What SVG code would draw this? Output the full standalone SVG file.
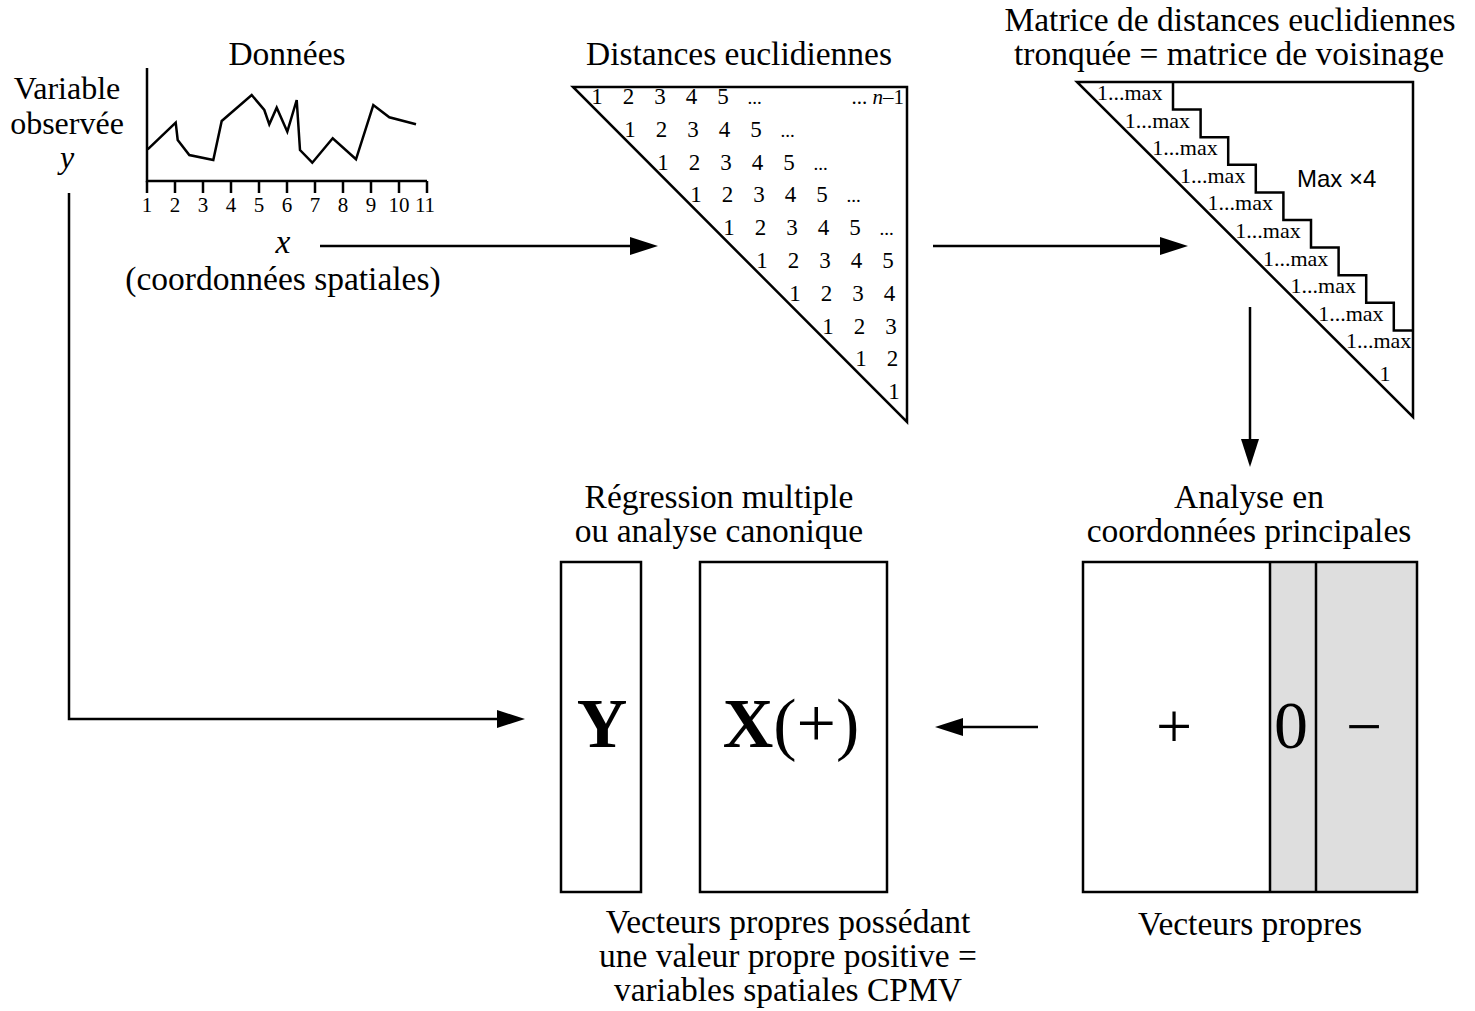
<svg xmlns="http://www.w3.org/2000/svg" width="1475" height="1011" viewBox="0 0 1475 1011">
<defs>
<style>
text{font-family:"Liberation Serif","Times New Roman",serif;fill:#000}
.t{font-size:33.5px;text-anchor:middle}
.n{font-size:23px;text-anchor:middle}
.tk{font-size:21px;text-anchor:middle}
.m{font-size:22px}
.ln{fill:none;stroke:#000;stroke-width:2.5}
.box{fill:#fff;stroke:#000;stroke-width:2.5}
.arr{fill:none;stroke:#000;stroke-width:2.5;marker-end:url(#ah)}
</style>
<marker id="ah" markerUnits="userSpaceOnUse" viewBox="0 0 28 18" refX="8" refY="9" markerWidth="28" markerHeight="18" orient="auto">
<path d="M0,0 L28,9 L0,18 z" fill="#000"/>
</marker>
</defs>
<rect width="1475" height="1011" fill="#fff"/>

<g id="donnees">
<text class="t" x="287" y="65">Données</text>
<text class="t" x="67" y="99" style="font-size:32px">Variable</text>
<text class="t" x="67" y="134" style="font-size:32px">observée</text>
<text class="t" x="67" y="168" font-style="italic" style="font-size:32px">y</text>
<path class="ln" d="M147,68 V181 H427"/>
<path class="ln" d="M147,181 V193 M175,181 V193 M203,181 V193 M231,181 V193 M259,181 V193 M287,181 V193 M315,181 V193 M343,181 V193 M371,181 V193 M399,181 V193 M427,181 V193"/>
<text class="tk" x="147" y="212">1</text>
<text class="tk" x="175" y="212">2</text>
<text class="tk" x="203" y="212">3</text>
<text class="tk" x="231" y="212">4</text>
<text class="tk" x="259" y="212">5</text>
<text class="tk" x="287" y="212">6</text>
<text class="tk" x="315" y="212">7</text>
<text class="tk" x="343" y="212">8</text>
<text class="tk" x="371" y="212">9</text>
<text class="tk" x="399" y="212">10</text>
<text class="tk" x="425" y="212">11</text>
<polyline class="ln" points="147.7,149.3 175.7,122.7 177.7,140 189.3,155 213.3,160 221.7,121 251.7,95 264.3,110 269.3,124.3 276.7,107.7 287.3,131.7 296.7,100 300,150 312.3,162.7 332.7,138.3 356,159.3 373.3,105 389.3,117.3 416,124.3"/>
<text class="t" x="283" y="253" font-style="italic">x</text>
<text class="t" x="283" y="290">(coordonnées spatiales)</text>
</g>

<g id="distances">
<text class="t" x="739" y="65">Distances euclidiennes</text>
<path class="ln" d="M573,87 H907 V422 Z"/>
<text class="n" x="597 628.5 660 691.5 723" y="104">12345</text>
<text class="n" x="754.5" y="104" style="font-size:19px">...</text>
<text class="n" x="904" y="104" style="text-anchor:end;font-size:21px">... <tspan font-style="italic">n</tspan>–1</text>
<text class="n" x="630 661.5 693 724.5 756" y="136.8">12345</text>
<text class="n" x="787.5" y="136.8" style="font-size:19px">...</text>
<text class="n" x="663 694.5 726 757.5 789" y="169.6">12345</text>
<text class="n" x="820.5" y="169.6" style="font-size:19px">...</text>
<text class="n" x="696 727.5 759 790.5 822" y="202.4">12345</text>
<text class="n" x="853.5" y="202.4" style="font-size:19px">...</text>
<text class="n" x="729 760.5 792 823.5 855" y="235.2">12345</text>
<text class="n" x="886.5" y="235.2" style="font-size:19px">...</text>
<text class="n" x="762 793.5 825 856.5 888" y="268">12345</text>
<text class="n" x="795 826.5 858 889.5" y="300.8">1234</text>
<text class="n" x="828 859.5 891" y="333.6">123</text>
<text class="n" x="861 892.5" y="366.4">12</text>
<text class="n" x="894" y="399.2">1</text>
</g>

<g id="voisinage">
<text class="t" x="1230" y="31">Matrice de distances euclidiennes</text>
<text class="t" x="1229" y="65">tronquée = matrice de voisinage</text>
<path class="ln" d="M1077,82 H1413 V417 Z"/>
<polyline class="ln" points="1173,82 1173,109.6 1200.6,109.6 1200.6,137.2 1228.2,137.2 1228.2,164.8 1255.8,164.8 1255.8,192.4 1283.4,192.4 1283.4,220 1311,220 1311,247.6 1338.6,247.6 1338.6,275.2 1366.2,275.2 1366.2,302.8 1393.8,302.8 1393.8,330.4 1413,330.4"/>
<text class="m" x="1097" y="100">1...max</text>
<text class="m" x="1124.7" y="127.6">1...max</text>
<text class="m" x="1152.3" y="155.2">1...max</text>
<text class="m" x="1180" y="182.8">1...max</text>
<text class="m" x="1207.6" y="210.4">1...max</text>
<text class="m" x="1235.3" y="238">1...max</text>
<text class="m" x="1262.9" y="265.6">1...max</text>
<text class="m" x="1290.6" y="293.2">1...max</text>
<text class="m" x="1318.2" y="320.8">1...max</text>
<text class="m" x="1345.9" y="348.4">1...max</text>
<text class="m" x="1385" y="381" text-anchor="middle">1</text>
<text x="1297" y="187" style="font-family:'Liberation Sans',Arial,sans-serif;font-size:24px">Max ×4</text>
</g>

<g id="acp">
<text class="t" x="1249" y="508">Analyse en</text>
<text class="t" x="1249" y="542">coordonnées principales</text>
<rect x="1083" y="562" width="334" height="330" fill="#fff"/>
<rect x="1270" y="562" width="147" height="330" fill="#dedede"/>
<path class="ln" d="M1270,562 V892 M1316,562 V892"/>
<rect class="ln" x="1083" y="562" width="334" height="330"/>
<text x="1174" y="748" style="font-size:64px;text-anchor:middle">+</text>
<text x="1291" y="748" style="font-size:68px;text-anchor:middle">0</text>
<text x="1364" y="748" style="font-size:64px;text-anchor:middle">−</text>
<text class="t" x="1250" y="935">Vecteurs propres</text>
</g>

<g id="regression">
<text class="t" x="719" y="508">Régression multiple</text>
<text class="t" x="719" y="542">ou analyse canonique</text>
</g>

<g id="Y">
<rect class="box" x="561" y="562" width="80" height="330"/>
<text x="602" y="747" style="font-size:70px;font-weight:bold;text-anchor:middle">Y</text>
</g>

<g id="X">
<rect class="box" x="700" y="562" width="187" height="330"/>
<text x="791" y="747" style="font-size:70px;text-anchor:middle"><tspan font-weight="bold">X</tspan>(+)</text>
<text class="t" x="788" y="933">Vecteurs propres possédant</text>
<text class="t" x="788" y="967">une valeur propre positive =</text>
<text class="t" x="788" y="1001">variables spatiales CPMV</text>
</g>

<g id="connectors">
<path class="arr" d="M320,246 H638"/>
<path class="arr" d="M933,246 H1168"/>
<path class="arr" d="M1250,307 V447"/>
<path class="arr" d="M69,193 V719 H505"/>
<path class="arr" d="M1038,727 H955"/>
</g>
</svg>
